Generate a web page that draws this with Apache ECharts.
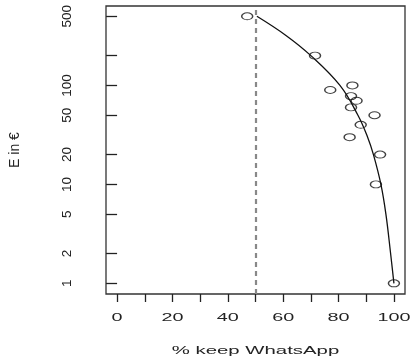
<!DOCTYPE html>
<html>
<head>
<meta charset="utf-8">
<script src="https://cdn.jsdelivr.net/npm/echarts@6/dist/echarts.min.js"></script>
<style>html,body{margin:0;padding:0;background:#fff;}#c{width:413px;height:360px;}</style>
</head>
<body>
<div id="c"></div>
<script>
// Data
const pointsX = [47, 71.5, 77, 85, 84.5, 86.5, 84.5, 93, 88, 84, 95, 93.5, 100];
const pointsY = [500, 200, 90, 100, 78, 70, 60, 50, 40, 30, 20, 10, 1];
const curveX = [50.5, 61, 70, 80.5, 87, 90.5, 92.6, 95.3, 97.1, 98.8, 100];
const curveY = [500, 320, 200, 100, 50, 30, 20, 10, 5, 2, 1];
const thresholdX = 50;
const xTicks = [0, 10, 20, 30, 40, 50, 60, 70, 80, 90, 100];
const xLabels = [0, 20, 40, 60, 80, 100];
const yTicks = [1, 2, 5, 10, 20, 50, 100, 200, 500];
const yLabels = [1, 2, 5, 10, 20, 50, 100, 500];
const xTitle = '% keep WhatsApp';
const yTitle = 'E in €';

const FONT = "'Liberation Sans', Arial, sans-serif";
const INK = '#222';
const chart = echarts.init(document.getElementById('c'), null, {renderer: 'canvas'});
const ellipse = 'path://M0,5 A5,5 0 1,1 10,5 A5,5 0 1,1 0,5 Z';

chart.setOption({
  animation: false,
  backgroundColor: '#fff',
  grid: {left: 106, right: 8, top: 6, bottom: 66, show: true, borderColor: '#333', borderWidth: 1.3, outerBoundsMode: 'none'},
  xAxis: {
    type: 'value', min: -4, max: 104,
    axisLine: {show: false},
    splitLine: {show: false},
    axisTick: {show: true, inside: false, length: 8, lineStyle: {color: INK, width: 1.3}, customValues: xTicks},
    axisLabel: {show: false}
  },
  yAxis: {
    type: 'log', logBase: 10, min: 0.78, max: 635,
    axisLine: {show: false},
    splitLine: {show: false},
    axisTick: {show: true, inside: false, length: 11, lineStyle: {color: INK, width: 1.3}, customValues: yTicks},
    axisLabel: {show: true, customValues: yLabels, rotate: 90, margin: 32, color: INK, fontSize: 13.5, fontFamily: FONT},
    name: yTitle, nameLocation: 'middle', nameRotate: 90, nameGap: 84,
    nameTextStyle: {color: INK, fontSize: 14, fontFamily: FONT}
  },
  series: [
    {
      type: 'line',
      data: curveX.map((x, i) => [x, curveY[i]]),
      smooth: 0.4, showSymbol: false, symbol: 'none',
      lineStyle: {color: '#111', width: 1.3},
      silent: true,
      markLine: {
        silent: true, symbol: ['none', 'none'], label: {show: false},
        lineStyle: {color: '#888', width: 2.2, type: [5, 4]},
        data: [{xAxis: thresholdX}]
      },
      z: 2
    },
    {
      type: 'scatter',
      data: pointsX.map((x, i) => [x, pointsY[i]]),
      symbol: ellipse, symbolSize: [11, 7],
      itemStyle: {color: 'rgba(0,0,0,0)', borderColor: '#111', borderWidth: 1.2},
      z: 3
    }
  ]
});

const gBottom = 360 - 66;
const gfx = xLabels.map(v => ({
  type: 'text',
  x: chart.convertToPixel({xAxisIndex: 0}, v),
  y: gBottom + 24,
  scaleX: 1.8,
  style: {text: String(v), fill: INK, font: '11px ' + FONT, align: 'center', verticalAlign: 'middle'}
}));
gfx.push({
  type: 'text',
  x: (chart.convertToPixel({xAxisIndex: 0}, -4) + chart.convertToPixel({xAxisIndex: 0}, 104)) / 2,
  y: 351,
  scaleX: 1.85,
  style: {text: xTitle, fill: INK, font: '11px ' + FONT, align: 'center', verticalAlign: 'middle'}
});
chart.setOption({graphic: gfx});
</script>
</body>
</html>
